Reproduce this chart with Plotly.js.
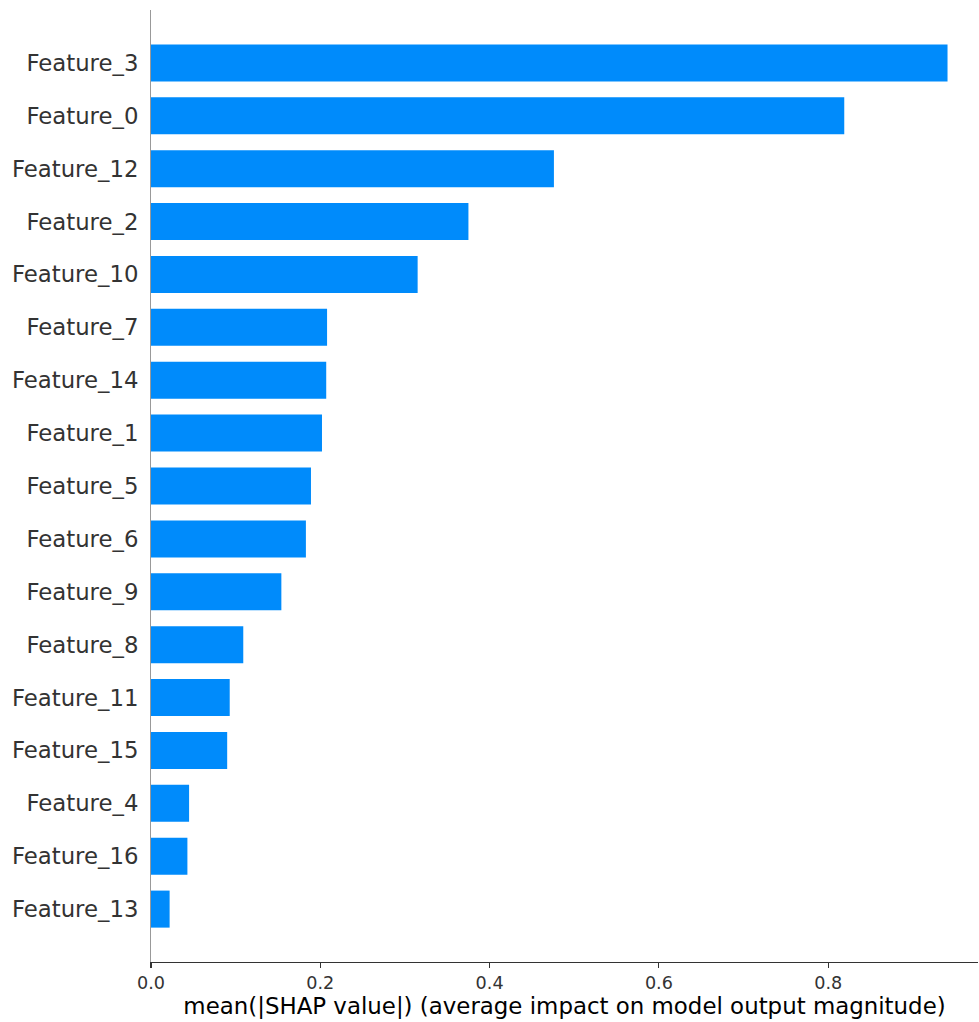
<!DOCTYPE html>
<html>
<head>
<meta charset="utf-8">
<script src="https://cdn.plot.ly/plotly-3.0.1.min.js"></script>
<style>html,body{margin:0;padding:0;background:#fff;}#chart{width:979px;height:1022px;}</style>
</head>
<body>
<div id="chart"></div>
<script>
// Ordered top to bottom as shown in the chart
const features = ["Feature_3","Feature_0","Feature_12","Feature_2","Feature_10","Feature_7","Feature_14","Feature_1","Feature_5","Feature_6","Feature_9","Feature_8","Feature_11","Feature_15","Feature_4","Feature_16","Feature_13"];
const meanAbsShap = [0.941,0.819,0.476,0.375,0.315,0.208,0.207,0.202,0.189,0.183,0.154,0.109,0.093,0.090,0.045,0.043,0.022];
const xTickVals = [0.0,0.2,0.4,0.6,0.8];
const xTickText = ["0.0","0.2","0.4","0.6","0.8"];
const xTitle = "mean(|SHAP value|) (average impact on model output magnitude)";

const cats = features.slice().reverse();
const vals = meanAbsShap.slice().reverse();

const trace = {
  type: "bar",
  orientation: "h",
  x: vals,
  y: cats,
  marker: {color: "#008bfb", line: {width: 0}},
  hoverinfo: "x+y"
};

const layout = {
  width: 979,
  height: 1022,
  margin: {l: 151, r: 1, t: 10, b: 60},
  paper_bgcolor: "#fff",
  plot_bgcolor: "#fff",
  bargap: 0.3,
  showlegend: false,
  font: {family: "DejaVu Sans", color: "#333333"},
  xaxis: {
    range: [0, 0.977],
    tickvals: xTickVals,
    ticktext: xTickText,
    showgrid: false,
    zeroline: false,
    showline: true,
    linecolor: "#333333",
    linewidth: 1.3,
    ticks: "outside",
    ticklen: 5,
    tickwidth: 1.2,
    tickcolor: "#333333",
    tickfont: {size: 17.6, color: "#333333", family: "DejaVu Sans"},
    title: {text: xTitle, font: {size: 22.9, color: "#000000", family: "DejaVu Sans"}, standoff: 4}
  },
  yaxis: {
    type: "category",
    categoryorder: "array",
    categoryarray: cats,
    range: [-1, 17],
    showgrid: false,
    zeroline: false,
    showline: true,
    linecolor: "#999999",
    linewidth: 1,
    ticks: "",
    ticklabelstandoff: 7,
    tickfont: {size: 22.8, color: "#333333", family: "DejaVu Sans"}
  }
};

Plotly.newPlot("chart", [trace], layout, {displayModeBar: false, staticPlot: true});
</script>
</body>
</html>
